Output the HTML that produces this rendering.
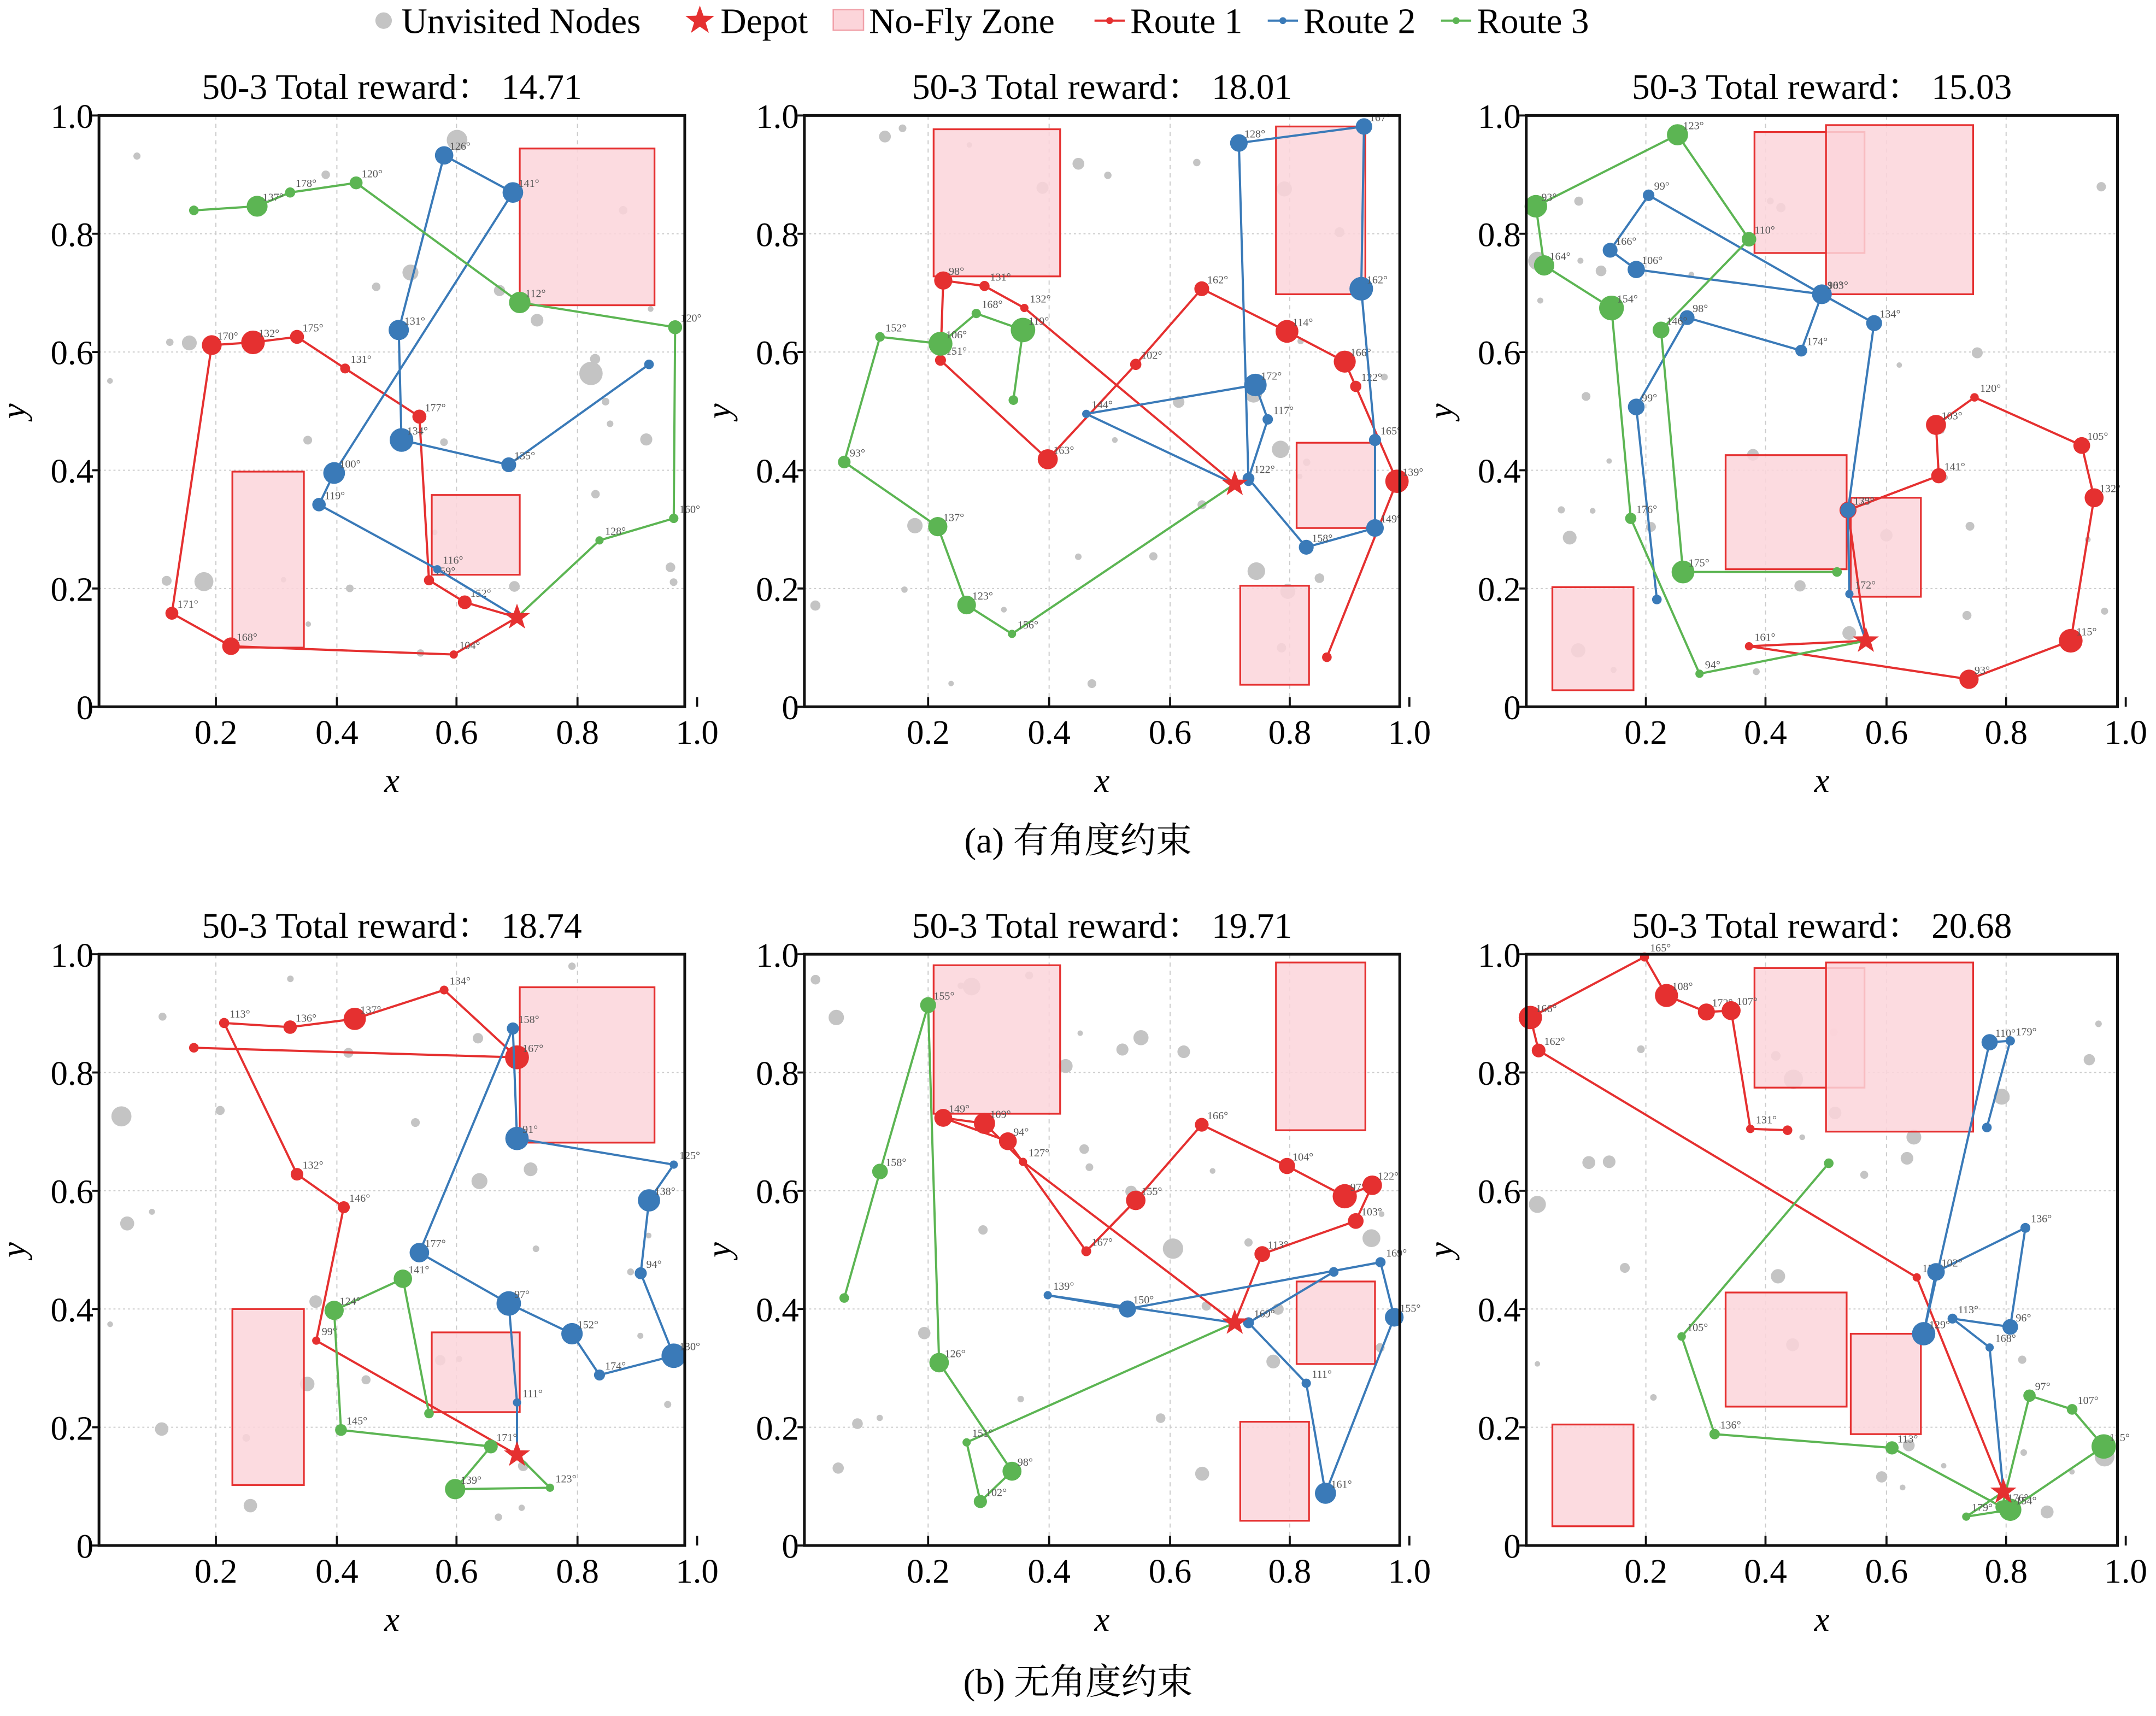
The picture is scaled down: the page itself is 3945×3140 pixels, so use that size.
<!DOCTYPE html>
<html><head><meta charset="utf-8"><style>html,body{margin:0;padding:0;background:#fff}svg{display:block}</style></head>
<body>
<svg id="s" xmlns="http://www.w3.org/2000/svg" width="3945" height="3140" viewBox="0 0 1568 1248" preserveAspectRatio="none" font-family="Liberation Serif, Noto Serif CJK SC, serif"></svg>
<script>
const S=document.getElementById('s');let h='';
const R='#e53030',B='#3a7ab8',G='#5cb553';
const panels=[
 {x0:72,x1:498,y0:84,y1:514,xt:[157,245,332,420,507],title:'50-3 Total reward：  14.71',
  z:[[378,108,476,222],[169,343,221,471],[314,360,378,418]],star:[376,449],
  r:[[376,449],[330,476],[168,470],[125,446],[154,251],[184,249],[216,245],[251,268],[305,303],[312,422],[338,438],[376,449]],
  b:[[376,449],[318,414],[232,367],[243,344],[373,140],[323,113],[290,240],[292,320],[370,338],[472,265]],
  g:[[376,449],[436,393],[490,377],[491,238],[378,220],[259,133],[211,140],[187,150],[141,153]]},
 {x0:585,x1:1018,y0:84,y1:514,xt:[675,763,851,938,1025],title:'50-3 Total reward：  18.01',
  z:[[679,94,771,201],[928,92,993,214],[943,322,1000,384],[902,426,952,498]],star:[898,352],
  r:[[898,352],[745,224],[716,208],[686,204],[684,262],[762,334],[826,265],[874,210],[936,241],[978,263],[986,281],[1016,350],[965,478]],
  b:[[898,352],[790,301],[913,280],[922,305],[908,348],[950,398],[1000,384],[1000,320],[990,210],[992,92],[901,104],[908,350]],
  g:[[898,352],[736,461],[703,440],[682,383],[614,336],[640,245],[684,250],[710,228],[744,240],[737,291]]},
 {x0:1110,x1:1540,y0:84,y1:514,xt:[1197,1284,1372,1459,1546],title:'50-3 Total reward：  15.03',
  z:[[1276,96,1356,184],[1328,91,1435,214],[1255,331,1343,414],[1346,362,1397,434],[1129,427,1188,502]],star:[1357,466],
  r:[[1357,466],[1272,470],[1432,494],[1506,466],[1523,362],[1514,324],[1436,289],[1408,309],[1410,346],[1344,371],[1357,466]],
  b:[[1357,466],[1345,432],[1344,371],[1363,235],[1325,214],[1199,142],[1171,182],[1190,196],[1325,214],[1310,255],[1227,231],[1190,296],[1205,436]],
  g:[[1357,466],[1236,490],[1186,377],[1172,224],[1123,193],[1117,150],[1220,98],[1272,174],[1208,240],[1224,416],[1336,416]]},
 {x0:72,x1:498,y0:694,y1:1124,xt:[157,245,332,420,507],title:'50-3 Total reward：  18.74',
  z:[[378,718,476,831],[169,952,221,1080],[314,969,378,1027]],star:[376,1058],
  r:[[376,1058],[230,975],[250,878],[216,854],[163,744],[211,747],[258,741],[323,720],[376,769],[141,762]],
  b:[[376,1058],[376,1020],[370,948],[416,970],[436,1000],[490,986],[466,926],[472,873],[490,847],[376,828],[373,748],[305,911],[370,948]],
  g:[[376,1058],[400,1082],[331,1083],[357,1052],[248,1040],[243,953],[293,930],[312,1028]]},
 {x0:585,x1:1018,y0:694,y1:1124,xt:[675,763,851,938,1025],title:'50-3 Total reward：  19.71',
  z:[[679,702,771,810],[928,700,993,822],[943,932,1000,992],[902,1034,952,1106]],star:[898,962],
  r:[[898,962],[744,845],[716,817],[686,813],[733,830],[790,910],[826,873],[874,818],[936,848],[978,870],[998,862],[986,888],[918,912],[898,962]],
  b:[[898,962],[762,942],[820,952],[1004,918],[1014,958],[964,1086],[950,1006],[908,962],[970,925]],
  g:[[898,962],[703,1049],[713,1092],[736,1070],[683,991],[675,731],[640,852],[614,944]]},
 {x0:1110,x1:1540,y0:694,y1:1124,xt:[1197,1284,1372,1459,1546],title:'50-3 Total reward：  20.68',
  z:[[1276,704,1356,791],[1328,700,1435,823],[1255,940,1343,1023],[1346,970,1397,1043],[1129,1036,1188,1110]],star:[1457,1085],
  r:[[1457,1085],[1394,929],[1119,764],[1113,740],[1196,696],[1212,724],[1241,736],[1259,735],[1273,821],[1300,822]],
  b:[[1457,1085],[1447,980],[1420,959],[1462,965],[1473,893],[1408,925],[1399,970],[1447,758],[1462,757],[1445,820]],
  g:[[1457,1085],[1430,1103],[1462,1098],[1530,1052],[1507,1025],[1476,1015],[1456,1096],[1376,1053],[1247,1043],[1223,972],[1330,846]]}
];
let seed=7;function rnd(){seed=(seed*16807)%2147483647;return seed/2147483647;}
function star(cx,cy,r){let p=[];for(let i=0;i<10;i++){const a=-Math.PI/2+i*Math.PI/5,rr=i%2?r*0.4:r;p.push((cx+rr*Math.cos(a)).toFixed(1)+','+(cy+rr*Math.sin(a)).toFixed(1));}return `<polygon points="${p.join(' ')}" fill="${R}"/>`;}
panels.forEach((p,k)=>{
 const W=p.x1-p.x0,H=p.y1-p.y0;
 h+=`<rect x="${p.x0}" y="${p.y0}" width="${W}" height="${H}" fill="#fff"/>`;
 for(let i=0;i<5;i++){const x=p.xt[i];if(x<p.x1-2)h+=`<line x1="${x}" y1="${p.y0}" x2="${x}" y2="${p.y1}" stroke="#ccc" stroke-width="0.8" stroke-dasharray="3,3"/>`;}
 for(let i=1;i<5;i++){const y=p.y1-i*H/5;h+=`<line x1="${p.x0}" y1="${y}" x2="${p.x1}" y2="${y}" stroke="#ccc" stroke-width="0.8" stroke-dasharray="1.5,2"/>`;}
 seed=11+k*3;for(let i=0;i<30;i++){const x=p.x0+8+rnd()*(W-16),y=p.y0+8+rnd()*(H-16),r=2+rnd()*rnd()*7;h+=`<circle cx="${x.toFixed(1)}" cy="${y.toFixed(1)}" r="${r.toFixed(1)}" fill="#c4c4c4"/>`;}
 p.z.forEach(z=>h+=`<rect x="${z[0]}" y="${z[1]}" width="${z[2]-z[0]}" height="${z[3]-z[1]}" fill="#fcd5da" fill-opacity="0.85" stroke="${R}" stroke-width="1.3"/>`);
 [[p.r,R],[p.b,B],[p.g,G]].forEach(([pts,c],j)=>{
  h+=`<polyline points="${pts.map(q=>q.join(',')).join(' ')}" fill="none" stroke="${c}" stroke-width="1.6"/>`;
  seed=100+k*10+j;pts.slice(1).forEach((q,i)=>{const r=i==pts.length-2?3.5:(3+rnd()*6);h+=`<circle cx="${q[0]}" cy="${q[1]}" r="${r.toFixed(1)}" fill="${c}"/>`;
   if(i<pts.length-2)h+=`<text x="${q[0]+4}" y="${q[1]-4}" font-size="8" fill="#555">${Math.round(90+rnd()*90)}°</text>`;});
 });
 h+=star(p.star[0],p.star[1],10);
 h+=`<rect x="${p.x0}" y="${p.y0}" width="${W}" height="${H}" fill="none" stroke="#111" stroke-width="2"/>`;
 p.xt.forEach((x,i)=>{h+=`<line x1="${x}" y1="${p.y1}" x2="${x}" y2="${p.y1-7}" stroke="#111" stroke-width="1.5"/><text x="${x}" y="${p.y1+27}" font-size="25" text-anchor="middle">${(0.2*(i+1)).toFixed(1)}</text>`;});
 ['0','0.2','0.4','0.6','0.8','1.0'].forEach((t,i)=>{const y=p.y1-i*H/5;h+=`<line x1="${p.x0}" y1="${y}" x2="${p.x0-5}" y2="${y}" stroke="#111" stroke-width="1.5"/><text x="${p.x0-4}" y="${y+9}" font-size="25" text-anchor="end">${t}</text>`;});
 h+=`<text x="${(p.x0+p.x1)/2}" y="${p.y0-12}" font-size="26" text-anchor="middle">${p.title}</text>`;
 h+=`<text x="${(p.x0+p.x1)/2}" y="${p.y1+62}" font-size="25" font-style="italic" text-anchor="middle">x</text>`;
 h+=`<text x="${p.x0-60}" y="${(p.y0+p.y1)/2+6}" font-size="25" font-style="italic" text-anchor="middle" transform="rotate(-90 ${p.x0-60} ${(p.y0+p.y1)/2})">y</text>`;
});
h+=`<text x="784" y="620" font-size="26" text-anchor="middle">(a) 有角度约束</text><text x="784" y="1232" font-size="26" text-anchor="middle">(b) 无角度约束</text>`;
h+=`<circle cx="279" cy="15" r="6" fill="#c4c4c4"/><text x="292" y="24" font-size="26">Unvisited Nodes</text>`+star(509,15,11)+`<text x="524" y="24" font-size="26">Depot</text>
<rect x="606" y="7" width="22" height="15" fill="#fcd5da" stroke="#f0a0a8"/><text x="632" y="24" font-size="26">No-Fly Zone</text>
<line x1="796" y1="15" x2="818" y2="15" stroke="${R}" stroke-width="1.6"/><circle cx="807" cy="15" r="2.5" fill="${R}"/><text x="822" y="24" font-size="26">Route 1</text>
<line x1="922" y1="15" x2="944" y2="15" stroke="${B}" stroke-width="1.6"/><circle cx="933" cy="15" r="2.5" fill="${B}"/><text x="948" y="24" font-size="26">Route 2</text>
<line x1="1048" y1="15" x2="1070" y2="15" stroke="${G}" stroke-width="1.6"/><circle cx="1059" cy="15" r="2.5" fill="${G}"/><text x="1074" y="24" font-size="26">Route 3</text>`;
S.innerHTML=h;
</script>
</body></html>
